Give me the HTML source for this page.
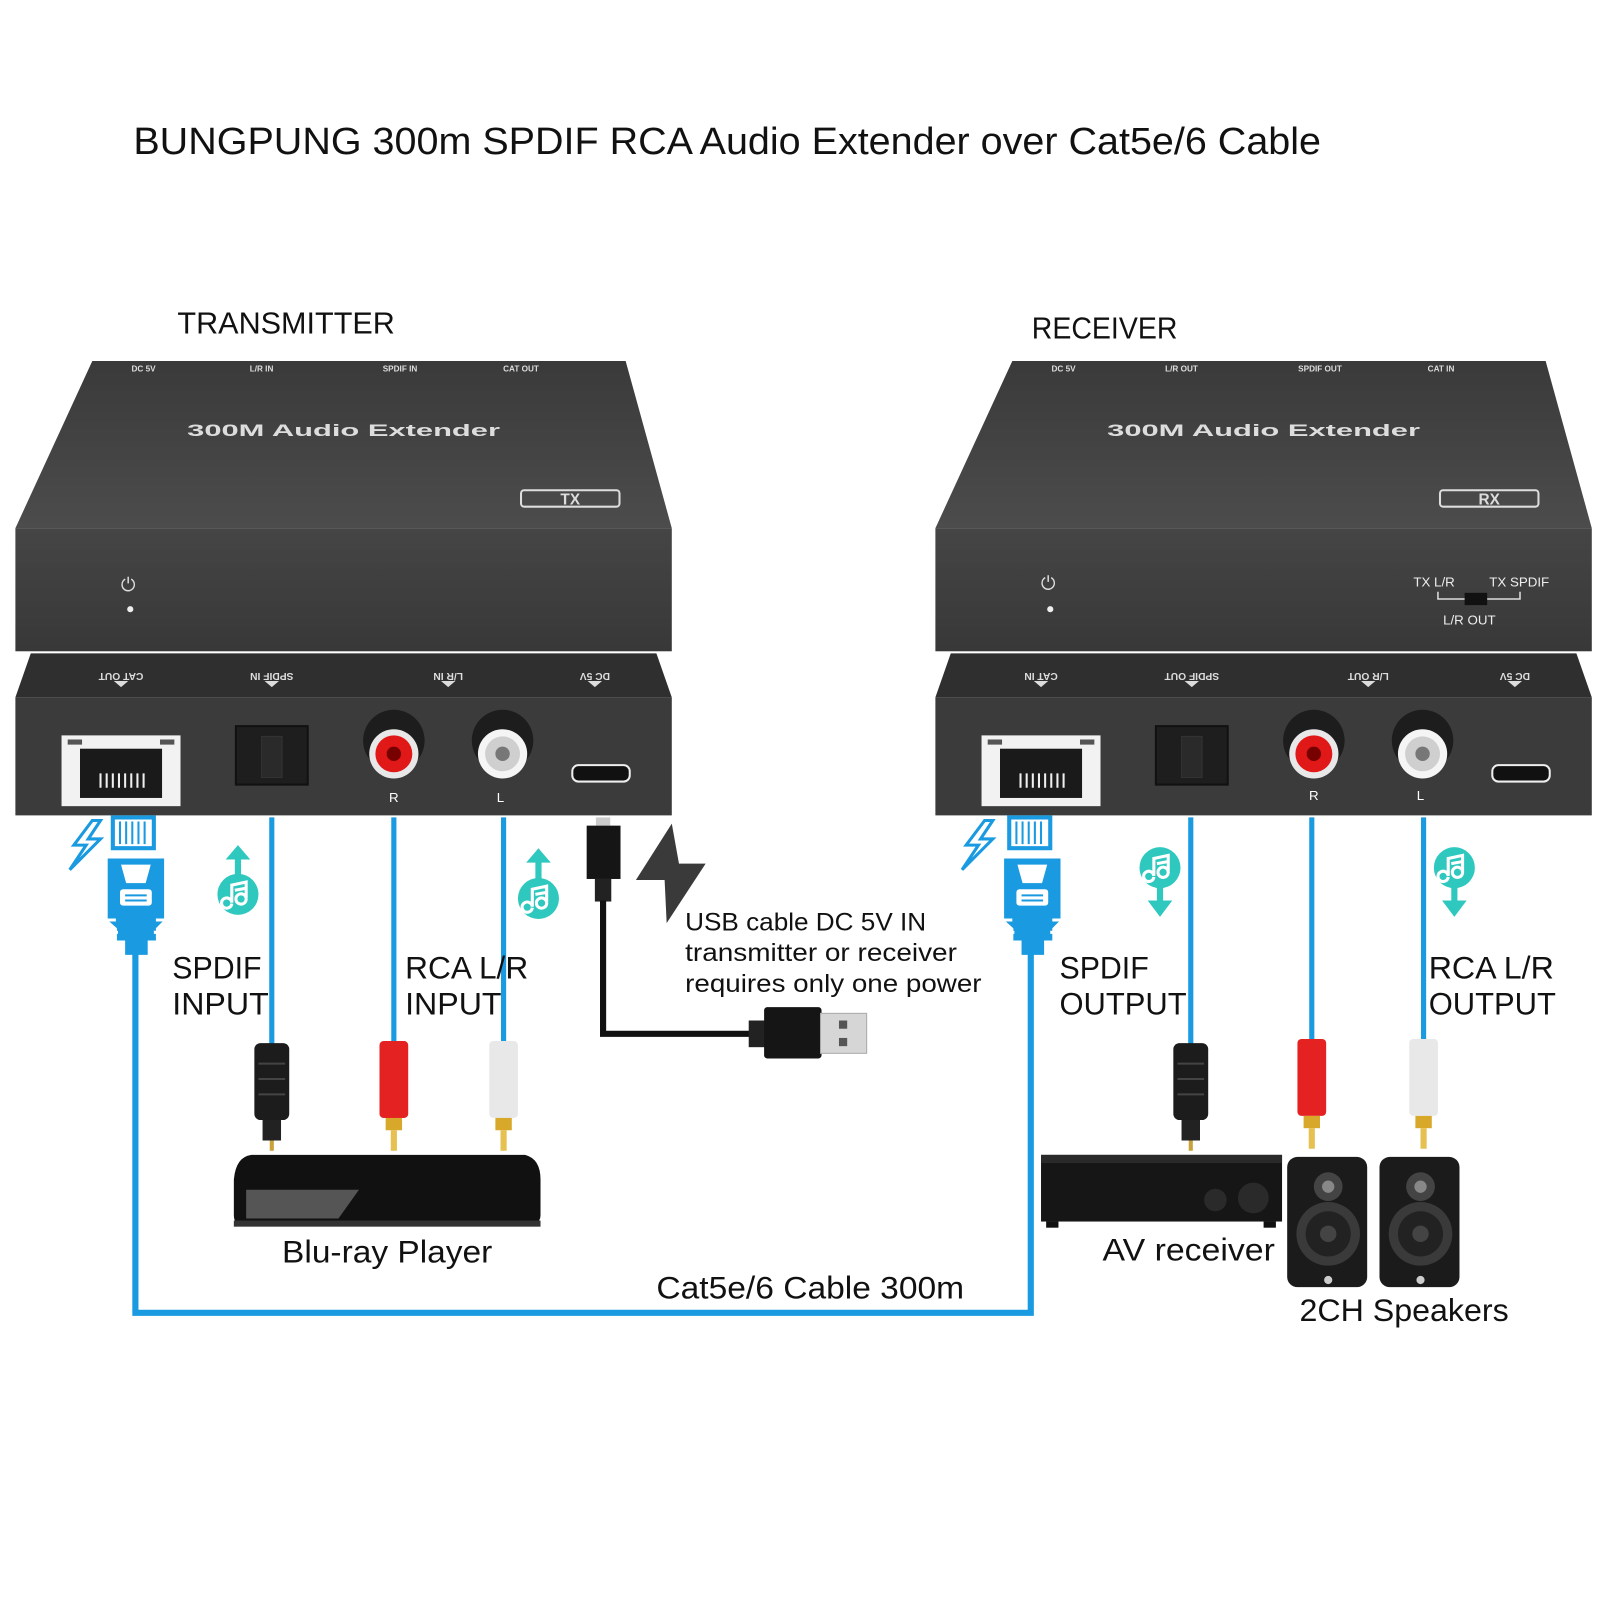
<!DOCTYPE html>
<html><head><meta charset="utf-8"><style>html,body{margin:0;padding:0;background:#fff}svg{display:block}text{font-family:"Liberation Sans",sans-serif}</style></head><body>
<svg width="1600" height="1600" viewBox="0 0 1560 1560" xmlns="http://www.w3.org/2000/svg">
<defs>
<linearGradient id="top" x1="0" y1="0" x2="0" y2="1"><stop offset="0" stop-color="#3a3a3a"/><stop offset="1" stop-color="#4c4c4c"/></linearGradient>
<linearGradient id="front" x1="0" y1="0" x2="0" y2="1"><stop offset="0" stop-color="#454545"/><stop offset="1" stop-color="#383838"/></linearGradient>
<g id="music"><circle cx="0" cy="0" r="20" fill="#2ec8bf"/><path d="M-6 9 a5 5 0 1 1 0-1 V-9 L8 -12 V5 a5 5 0 1 1 0-1 V-6 L-3 -4" fill="none" stroke="#fff" stroke-width="3"/></g>
<g id="rj"><path d="M5 0 h40 v30 h-40z" fill="none" stroke="#1a9ae0" stroke-width="4"/><path d="M12 4 v22 M18 4 v22 M24 4 v22 M30 4 v22 M36 4 v22" stroke="#1a9ae0" stroke-width="2"/><path d="M0 40 h55 v60 l-8 8 v12 h-8 v14 h-22 v-14 h-8 v-12 l-9 -8z" fill="#1a9ae0"/><path d="M13 46 h29 l-5 18 h-19z" fill="#fff"/><rect x="12" y="70" width="31" height="16" rx="3" fill="#fff"/><path d="M17 76 h21 M17 81 h21" stroke="#1a9ae0" stroke-width="2"/><path d="M-2 100 h10 M47 100 h10 M0 112 h10 M45 112 h10" stroke="#fff" stroke-width="3"/></g>
<g id="bolt"><path d="M22 0 L4 24 H16 L0 48 L30 18 H18 L30 0z" fill="none" stroke="#1a9ae0" stroke-width="3"/></g>
<g id="opt"><rect x="-17" y="0" width="34" height="75" rx="6" fill="#1c1c1c"/><path d="M-13 20 h26 M-13 35 h26 M-13 50 h26" stroke="#444" stroke-width="2"/><rect x="-9" y="75" width="18" height="20" fill="#222"/><rect x="-2" y="95" width="4" height="10" fill="#c9a23a"/></g>
<g id="rca"><rect x="-14" y="0" width="28" height="75" rx="4"/><rect x="-8" y="75" width="16" height="12" fill="#d8a82a"/><rect x="-3" y="87" width="6" height="20" fill="#e6c050"/></g>
</defs>

<text x="130" y="150" font-size="37" textLength="1158" lengthAdjust="spacingAndGlyphs" fill="#111">BUNGPUNG 300m SPDIF RCA Audio Extender over Cat5e/6 Cable</text>
<text x="173" y="325" font-size="30" textLength="212" lengthAdjust="spacingAndGlyphs" fill="#111">TRANSMITTER</text>
<text x="1006" y="330" font-size="30" textLength="142" lengthAdjust="spacingAndGlyphs" fill="#111">RECEIVER</text>

<!-- TX device -->
<g>
<polygon points="90,352 610,352 655,515 15,515" fill="url(#top)"/>
<rect x="15" y="515" width="640" height="120" fill="url(#front)"/>
<polygon points="30,637 640,637 655,680 15,680" fill="#2f2f2f"/>
<rect x="15" y="680" width="640" height="115" fill="#3b3b3b"/>
<g font-size="8" fill="#ddd" font-weight="bold" text-anchor="middle"><text x="140" y="362">DC 5V</text><text x="255" y="362">L/R IN</text><text x="390" y="362">SPDIF IN</text><text x="508" y="362">CAT OUT</text></g>
<text x="335" y="425" font-size="16" font-weight="bold" fill="#ddd" text-anchor="middle" textLength="305" lengthAdjust="spacingAndGlyphs">300M Audio Extender</text>
<rect x="508" y="478" width="96" height="16" rx="3" fill="none" stroke="#ddd" stroke-width="2"/><text x="556" y="492" font-size="15" font-weight="bold" fill="#ddd" text-anchor="middle">TX</text>
<text x="125" y="576" font-size="18" fill="#ddd" text-anchor="middle">⏻</text><circle cx="127" cy="594" r="3" fill="#eee"/>
<g font-size="10" fill="#ddd" font-weight="bold" text-anchor="middle">
<text transform="translate(118,656) rotate(180)">CAT OUT</text><text transform="translate(265,656) rotate(180)">SPDIF IN</text><text transform="translate(437,656) rotate(180)">L/R IN</text><text transform="translate(580,656) rotate(180)">DC 5V</text></g>
<g fill="#ddd"><path d="M111 664 h14 l-7 6z M258 664 h14 l-7 6z M430 664 h14 l-7 6z M573 664 h14 l-7 6z"/></g>
<rect x="60" y="717" width="116" height="69" fill="#f2f2f2"/><rect x="78" y="730" width="80" height="48" fill="#1a1a1a"/><rect x="66" y="721" width="14" height="5" fill="#555"/><rect x="156" y="721" width="14" height="5" fill="#555"/><path d="M98 754 v14 M104 754 v14 M110 754 v14 M116 754 v14 M122 754 v14 M128 754 v14 M134 754 v14 M140 754 v14" stroke="#eee" stroke-width="2"/>
<rect x="230" y="708" width="70" height="57" fill="#1e1e1e" stroke="#111" stroke-width="2"/><rect x="255" y="718" width="20" height="40" fill="#2a2a2a" stroke="#333"/>
<circle cx="384" cy="722" r="30" fill="#1d1d1d"/><circle cx="384" cy="735" r="24" fill="#e8e8e8"/><circle cx="384" cy="735" r="18" fill="#e01818"/><circle cx="384" cy="735" r="7" fill="#700"/>
<circle cx="490" cy="722" r="30" fill="#1d1d1d"/><circle cx="490" cy="735" r="24" fill="#f5f5f5"/><circle cx="490" cy="735" r="17" fill="#cfcfcf"/><circle cx="490" cy="735" r="7" fill="#777"/>
<text x="384" y="782" font-size="13" fill="#fff" text-anchor="middle">R</text><text x="488" y="782" font-size="13" fill="#fff" text-anchor="middle">L</text>
<rect x="558" y="746" width="56" height="16" rx="6" fill="#111" stroke="#eee" stroke-width="2"/>
</g>

<!-- RX device -->
<g>
<polygon points="987,352 1507,352 1552,515 912,515" fill="url(#top)"/>
<rect x="912" y="515" width="640" height="120" fill="url(#front)"/>
<polygon points="927,637 1537,637 1552,680 912,680" fill="#2f2f2f"/>
<rect x="912" y="680" width="640" height="115" fill="#3b3b3b"/>
<g font-size="8" fill="#ddd" font-weight="bold" text-anchor="middle"><text x="1037" y="362">DC 5V</text><text x="1152" y="362">L/R OUT</text><text x="1287" y="362">SPDIF OUT</text><text x="1405" y="362">CAT IN</text></g>
<text x="1232" y="425" font-size="16" font-weight="bold" fill="#ddd" text-anchor="middle" textLength="305" lengthAdjust="spacingAndGlyphs">300M Audio Extender</text>
<rect x="1404" y="478" width="96" height="16" rx="3" fill="none" stroke="#ddd" stroke-width="2"/><text x="1452" y="492" font-size="15" font-weight="bold" fill="#ddd" text-anchor="middle">RX</text>
<text x="1022" y="575" font-size="18" fill="#ddd" text-anchor="middle">⏻</text><circle cx="1024" cy="594" r="3" fill="#eee"/>
<g font-size="13" fill="#eee"><text x="1378" y="572">TX L/R</text><text x="1452" y="572">TX SPDIF</text><text x="1407" y="609">L/R OUT</text></g>
<path d="M1402 577 v7 h80 v-7" fill="none" stroke="#ddd" stroke-width="1.5"/><rect x="1428" y="578" width="22" height="12" fill="#111"/>
<g font-size="10" fill="#ddd" font-weight="bold" text-anchor="middle">
<text transform="translate(1015,656) rotate(180)">CAT IN</text><text transform="translate(1162,656) rotate(180)">SPDIF OUT</text><text transform="translate(1334,656) rotate(180)">L/R OUT</text><text transform="translate(1477,656) rotate(180)">DC 5V</text></g>
<g fill="#ddd"><path d="M1008 664 h14 l-7 6z M1155 664 h14 l-7 6z M1327 664 h14 l-7 6z M1470 664 h14 l-7 6z"/></g>
<rect x="957" y="717" width="116" height="69" fill="#f2f2f2"/><rect x="975" y="730" width="80" height="48" fill="#1a1a1a"/><rect x="963" y="721" width="14" height="5" fill="#555"/><rect x="1053" y="721" width="14" height="5" fill="#555"/><path d="M995 754 v14 M1001 754 v14 M1007 754 v14 M1013 754 v14 M1019 754 v14 M1025 754 v14 M1031 754 v14 M1037 754 v14" stroke="#eee" stroke-width="2"/>
<rect x="1127" y="708" width="70" height="57" fill="#1e1e1e" stroke="#111" stroke-width="2"/><rect x="1152" y="718" width="20" height="40" fill="#2a2a2a" stroke="#333"/>
<circle cx="1281" cy="722" r="30" fill="#1d1d1d"/><circle cx="1281" cy="735" r="24" fill="#e8e8e8"/><circle cx="1281" cy="735" r="18" fill="#e01818"/><circle cx="1281" cy="735" r="7" fill="#700"/>
<circle cx="1387" cy="722" r="30" fill="#1d1d1d"/><circle cx="1387" cy="735" r="24" fill="#f5f5f5"/><circle cx="1387" cy="735" r="17" fill="#cfcfcf"/><circle cx="1387" cy="735" r="7" fill="#777"/>
<text x="1281" y="780" font-size="13" fill="#fff" text-anchor="middle">R</text><text x="1385" y="780" font-size="13" fill="#fff" text-anchor="middle">L</text>
<rect x="1455" y="746" width="56" height="16" rx="6" fill="#111" stroke="#eee" stroke-width="2"/>
</g>

<!-- cables -->
<g stroke="#1a9ae0" stroke-width="5" fill="none">
<path d="M265 797 V1020 M384 797 V1018 M491 797 V1018 M1161 797 V1020 M1279 797 V1018 M1388 797 V1018"/>
<path d="M132 925 V1280 H1005 V925" stroke-width="6"/>
</g>
<use href="#rj" x="105" y="797"/><use href="#rj" x="979" y="797"/>
<use href="#bolt" x="68" y="800"/><use href="#bolt" x="938" y="800"/>
<!-- music icons -->
<g fill="#2ec8bf"><rect x="229" y="835" width="6" height="20"/><path d="M220 838 l12 -14 l12 14z"/><rect x="522" y="838" width="6" height="20"/><path d="M513 841 l12 -14 l12 14z"/>
<rect x="1128" y="860" width="6" height="22"/><path d="M1119 878 l12 16 l12 -16z"/><rect x="1415" y="860" width="6" height="22"/><path d="M1406 878 l12 16 l12 -16z"/></g>
<use href="#music" x="232" y="872"/><use href="#music" x="525" y="876"/><use href="#music" x="1131" y="846"/><use href="#music" x="1418" y="846"/>

<!-- connectors -->
<use href="#opt" x="265" y="1017"/><use href="#rca" x="384" y="1015" fill="#e52222"/><use href="#rca" x="491" y="1015" fill="#e8e8e8"/>
<use href="#opt" x="1161" y="1017"/><use href="#rca" x="1279" y="1013" fill="#e52222"/><use href="#rca" x="1388" y="1013" fill="#e8e8e8"/>

<!-- USB cable -->
<rect x="581" y="797" width="14" height="8" fill="#ccc"/><rect x="572" y="805" width="33" height="52" fill="#151515"/><rect x="580" y="857" width="16" height="22" fill="#222"/>
<path d="M588 878 V1008 H745" stroke="#111" stroke-width="6" fill="none"/>
<rect x="730" y="995" width="18" height="26" fill="#222"/><rect x="745" y="982" width="56" height="50" rx="3" fill="#151515"/><rect x="800" y="988" width="45" height="39" fill="#d6d6d6" stroke="#aaa"/><rect x="818" y="995" width="8" height="8" fill="#555"/><rect x="818" y="1012" width="8" height="8" fill="#555"/>
<path d="M655 803 L620 858 H648 L650 900 L688 842 H662z" fill="#3a3a3a"/>
<g font-size="24" fill="#111"><text x="668" y="907" textLength="235" lengthAdjust="spacingAndGlyphs">USB cable DC 5V IN</text><text x="668" y="937" textLength="265" lengthAdjust="spacingAndGlyphs">transmitter or receiver</text><text x="668" y="967" textLength="289" lengthAdjust="spacingAndGlyphs">requires only one power</text></g>

<!-- labels -->
<g font-size="31" fill="#111">
<text x="168" y="954" textLength="87" lengthAdjust="spacingAndGlyphs">SPDIF</text><text x="168" y="989" textLength="94" lengthAdjust="spacingAndGlyphs">INPUT</text>
<text x="395" y="954" textLength="120" lengthAdjust="spacingAndGlyphs">RCA L/R</text><text x="395" y="989" textLength="94" lengthAdjust="spacingAndGlyphs">INPUT</text>
<text x="1033" y="954" textLength="87" lengthAdjust="spacingAndGlyphs">SPDIF</text><text x="1033" y="989" textLength="124" lengthAdjust="spacingAndGlyphs">OUTPUT</text>
<text x="1393" y="954" textLength="122" lengthAdjust="spacingAndGlyphs">RCA L/R</text><text x="1393" y="989" textLength="124" lengthAdjust="spacingAndGlyphs">OUTPUT</text>
<text x="275" y="1231" textLength="205" lengthAdjust="spacingAndGlyphs">Blu-ray Player</text>
<text x="640" y="1266" textLength="300" lengthAdjust="spacingAndGlyphs">Cat5e/6 Cable 300m</text>
<text x="1075" y="1229" textLength="168" lengthAdjust="spacingAndGlyphs">AV receiver</text>
<text x="1267" y="1288" textLength="204" lengthAdjust="spacingAndGlyphs">2CH Speakers</text>
</g>

<!-- Blu-ray -->
<path d="M245 1126 H512 Q527 1130 527 1150 V1185 Q527 1195 510 1195 H240 Q228 1195 228 1185 V1150 Q230 1128 245 1126z" fill="#111"/>
<polygon points="240,1160 350,1160 330,1188 240,1188" fill="#555"/><rect x="228" y="1190" width="299" height="6" fill="#333"/>
<!-- AV receiver -->
<rect x="1015" y="1126" width="235" height="65" fill="#161616"/><rect x="1015" y="1126" width="235" height="8" fill="#2a2a2a"/><circle cx="1185" cy="1170" r="11" fill="#2a2a2a"/><circle cx="1222" cy="1168" r="15" fill="#2a2a2a"/><rect x="1020" y="1191" width="12" height="6" fill="#111"/><rect x="1232" y="1191" width="12" height="6" fill="#111"/>
<!-- speakers -->
<g><rect x="1255" y="1128" width="78" height="127" rx="10" fill="#1b1b1b"/><circle cx="1295" cy="1157" r="14" fill="#444"/><circle cx="1295" cy="1157" r="6" fill="#888"/><circle cx="1295" cy="1203" r="31" fill="#3a3a3a"/><circle cx="1295" cy="1203" r="22" fill="#222"/><circle cx="1295" cy="1203" r="8" fill="#444"/><circle cx="1295" cy="1248" r="4" fill="#ccc"/></g>
<g><rect x="1345" y="1128" width="78" height="127" rx="10" fill="#1b1b1b"/><circle cx="1385" cy="1157" r="14" fill="#444"/><circle cx="1385" cy="1157" r="6" fill="#888"/><circle cx="1385" cy="1203" r="31" fill="#3a3a3a"/><circle cx="1385" cy="1203" r="22" fill="#222"/><circle cx="1385" cy="1203" r="8" fill="#444"/><circle cx="1385" cy="1248" r="4" fill="#ccc"/></g>
</svg>
</body></html>
